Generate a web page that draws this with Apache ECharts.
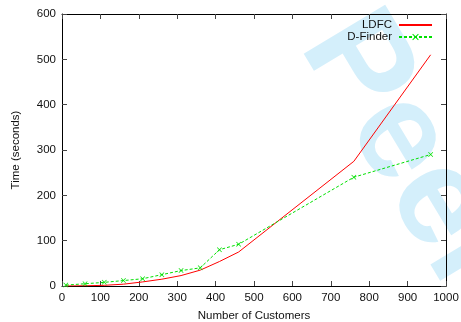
<!DOCTYPE html>
<html>
<head>
<meta charset="utf-8">
<script src="https://cdn.jsdelivr.net/npm/echarts@6/dist/echarts.min.js"></script>
<style>
  html, body { margin: 0; padding: 0; background: #fff; }
  #chart { width: 461px; height: 322px; }
</style>
</head>
<body>
<div id="chart"></div>
<script>
// customers on the x axis, time in seconds on the y axis
var customers = [10, 60, 110, 160, 210, 260, 310, 360, 410, 460, 760, 960];
var ldfcTime = [0, 0.5, 1.5, 4, 9, 15, 23, 35, 54, 75, 275, 510];
var dfinderTime = [2, 5, 8, 12, 16, 25, 34, 40, 80, 92, 240, 290];

var FONT = '"Liberation Sans", Arial, Helvetica, sans-serif';
var crossPath = 'path://M0,1L1,0L5,4L9,0L10,1L6,5L10,9L9,10L5,6L1,10L0,9L4,5Z';

function pairs(xs, ys) {
  var out = [];
  for (var i = 0; i < xs.length; i++) out.push([xs[i], ys[i]]);
  return out;
}

var chart = echarts.init(document.getElementById('chart'));

var axisCommon = {
  axisLine: { show: true, onZero: false, lineStyle: { color: '#000', width: 1 } },
  axisTick: { show: true, inside: true, length: 5, lineStyle: { color: '#444' } },
  splitLine: { show: false }
};
var labelStyle = { fontFamily: FONT, fontSize: 11.5, color: '#111', margin: 6,
  formatter: function (v) { return String(v); } };

var option = {
  animation: false,
  backgroundColor: '#fff',
  grid: { left: 62, right: 15, top: 14, bottom: 36, outerBoundsMode: 'none', containLabel: false },
  graphic: [{
    type: 'text',
    z: -10,
    x: 474,
    y: 263,
    rotation: -59 * Math.PI / 180,
    silent: true,
    style: {
      text: 'For Peer Review',
      font: 'bold 138px ' + FONT,
      fill: '#d4effb',
      align: 'center',
      verticalAlign: 'middle'
    }
  }],
  legend: [{
    data: ['LDFC'],
    orient: 'vertical',
    right: 28, top: 19, padding: 0,
    align: 'right',
    itemWidth: 33, itemHeight: 10,
    itemStyle: { opacity: 0 },
    textStyle: { fontFamily: FONT, fontSize: 11.5, color: '#111', padding: [0, 2, 0, 0] }
  }, {
    data: ['D-Finder'],
    orient: 'vertical',
    right: 28, top: 31, padding: 0,
    align: 'right',
    itemWidth: 33, itemHeight: 8,
    textStyle: { fontFamily: FONT, fontSize: 11.5, color: '#111', padding: [0, 2, 0, 0] }
  }],
  xAxis: [
    Object.assign({
      type: 'value', min: 0, max: 1000, interval: 100,
      name: 'Number of Customers', nameLocation: 'middle', nameGap: 24,
      nameTextStyle: { fontFamily: FONT, fontSize: 11.5, color: '#111' },
      axisLabel: labelStyle
    }, axisCommon),
    Object.assign({
      type: 'value', min: 0, max: 1000, interval: 100, position: 'top',
      axisLabel: { show: false }
    }, axisCommon)
  ],
  yAxis: [
    Object.assign({
      type: 'value', min: 0, max: 600, interval: 100,
      name: 'Time (seconds)', nameLocation: 'middle', nameGap: 40,
      nameTextStyle: { fontFamily: FONT, fontSize: 11.5, color: '#111' },
      axisLabel: labelStyle
    }, axisCommon),
    Object.assign({
      type: 'value', min: 0, max: 600, interval: 100, position: 'right',
      axisLabel: { show: false }
    }, axisCommon)
  ],
  series: [{
    name: 'LDFC',
    type: 'line',
    data: pairs(customers, ldfcTime),
    symbol: 'none',
    color: '#ff0000',
    lineStyle: { color: '#ff0000', width: 1 },
    z: 3
  }, {
    name: 'D-Finder',
    type: 'line',
    data: pairs(customers, dfinderTime),
    symbol: crossPath,
    symbolSize: 5,
    color: '#00e000',
    itemStyle: { color: '#00e000' },
    lineStyle: { color: '#00e000', width: 1, type: [3, 2] },
    z: 4
  }]
};

chart.setOption(option);
</script>
</body>
</html>
